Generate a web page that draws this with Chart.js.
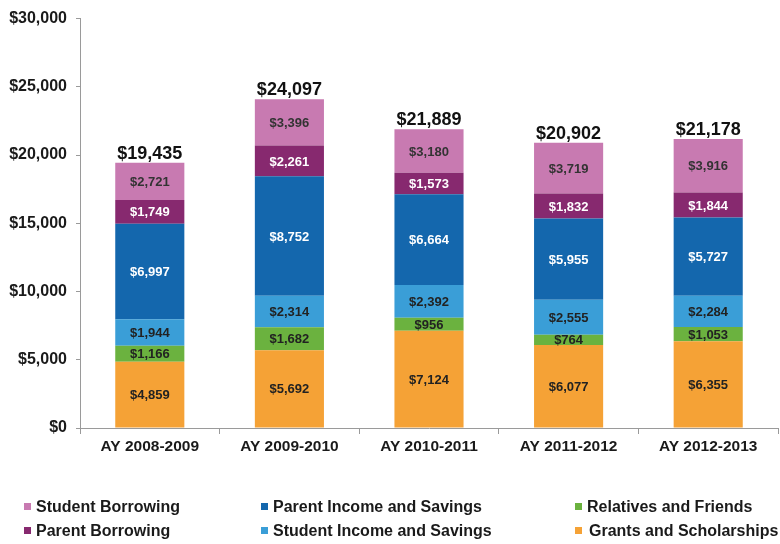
<!DOCTYPE html>
<html>
<head>
<meta charset="utf-8">
<script src="https://cdn.jsdelivr.net/npm/chart.js@4/dist/chart.umd.min.js"></script>
<style>
  html, body { margin: 0; padding: 0; background: #ffffff; }
  #wrap { width: 780px; height: 544px; }
</style>
</head>
<body>
<div id="wrap"><canvas id="c" width="780" height="544"></canvas></div>
<script>
// Academic years
const years = ['AY 2008-2009', 'AY 2009-2010', 'AY 2010-2011', 'AY 2011-2012', 'AY 2012-2013'];

// Average spending on college by source (dollars), bottom of stack to top
const grantsScholarships = [4859, 5692, 7124, 6077, 6355];
const relativesFriends   = [1166, 1682, 956, 764, 1053];
const studentIncome      = [1944, 2314, 2392, 2555, 2284];
const parentIncome       = [6997, 8752, 6664, 5955, 5727];
const parentBorrowing    = [1749, 2261, 1573, 1832, 1844];
const studentBorrowing   = [2721, 3396, 3180, 3719, 3916];

// Totals printed above each bar
const yearTotals = [19435, 24097, 21889, 20902, 21178];

// Value axis ticks
const yTicks = [0, 5000, 10000, 15000, 20000, 25000, 30000];

const FONT = '"Liberation Sans", Arial, sans-serif';
const money = v => '$' + v.toLocaleString('en-US');

const series = [
  { label: 'Grants and Scholarships',    data: grantsScholarships, color: '#F5A236', text: '#222222' },
  { label: 'Relatives and Friends',      data: relativesFriends,   color: '#6BB23F', text: '#222222' },
  { label: 'Student Income and Savings', data: studentIncome,      color: '#3A9ED7', text: '#222222' },
  { label: 'Parent Income and Savings',  data: parentIncome,       color: '#1467AD', text: '#ffffff' },
  { label: 'Parent Borrowing',           data: parentBorrowing,    color: '#87296F', text: '#ffffff' },
  { label: 'Student Borrowing',          data: studentBorrowing,   color: '#C87AB1', text: '#333333' }
];

// Legend grid: columns left to right, two entries per column
const legendColumns = [
  ['Student Borrowing', 'Parent Borrowing'],
  ['Parent Income and Savings', 'Student Income and Savings'],
  ['Relatives and Friends', 'Grants and Scholarships']
];

const segmentLabels = {
  id: 'segmentLabels',
  afterDatasetsDraw(chart) {
    const ctx = chart.ctx;
    ctx.save();
    ctx.textAlign = 'center';
    ctx.textBaseline = 'middle';
    ctx.font = 'bold 13px ' + FONT;
    chart.data.datasets.forEach((ds, di) => {
      const meta = chart.getDatasetMeta(di);
      meta.data.forEach((bar, i) => {
        const mid = (bar.y + bar.base) / 2;
        ctx.fillStyle = ds.labelColor;
        ctx.fillText(money(ds.data[i]), bar.x, mid + 1);
      });
    });
    // totals above the stacks
    const topMeta = chart.getDatasetMeta(chart.data.datasets.length - 1);
    ctx.font = 'bold 18px ' + FONT;
    ctx.fillStyle = '#111111';
    ctx.textBaseline = 'alphabetic';
    topMeta.data.forEach((bar, i) => {
      ctx.fillText(money(yearTotals[i]), bar.x, bar.y - 4);
    });
    ctx.restore();
  }
};

const gridLegend = {
  id: 'gridLegend',
  afterDraw(chart) {
    const ctx = chart.ctx;
    const colX = [24, 261, 575];
    const rowY = [508, 532];
    ctx.save();
    ctx.font = 'bold 16px ' + FONT;
    ctx.textBaseline = 'middle';
    ctx.textAlign = 'left';
    legendColumns.forEach((col, ci) => {
      col.forEach((name, ri) => {
        const ds = chart.data.datasets.find(d => d.label === name);
        const x = colX[ci], y = rowY[ri];
        ctx.fillStyle = ds.backgroundColor;
        ctx.fillRect(x, y - 5, 7, 7);
        ctx.fillStyle = '#1a1a1a';
        ctx.fillText(name, x + 12 + (name === 'Grants and Scholarships' ? 2 : 0), y);
      });
    });
    ctx.restore();
  }
};

new Chart(document.getElementById('c'), {
  type: 'bar',
  data: {
    labels: years,
    datasets: series.map(s => ({
      label: s.label,
      data: s.data,
      backgroundColor: s.color,
      labelColor: s.text,
      borderWidth: 0,
      categoryPercentage: 1.0,
      barPercentage: 0.495
    }))
  },
  options: {
    responsive: false,
    animation: false,
    devicePixelRatio: 1,
    layout: { padding: { top: 16, left: 0, right: 2, bottom: 86 } },
    plugins: {
      legend: { display: false },
      tooltip: { enabled: false }
    },
    scales: {
      x: {
        stacked: true,
        afterFit(scale) { scale.height = 30; },
        grid: {
          display: true,
          offset: true,
          drawOnChartArea: false,
          drawTicks: true,
          tickLength: 6,
          color: '#9a9a9a'
        },
        border: { display: true, color: '#9a9a9a', width: 1 },
        ticks: {
          color: '#1a1a1a',
          font: { family: FONT, size: 15.5, weight: 'bold' },
          padding: 3,
          maxRotation: 0
        }
      },
      y: {
        stacked: true,
        min: 0,
        max: 30000,
        afterFit(scale) { scale.width = 80; },
        afterBuildTicks(scale) { scale.ticks = yTicks.map(v => ({ value: v })); },
        grid: {
          display: true,
          drawOnChartArea: false,
          drawTicks: true,
          tickLength: 4,
          color: '#9a9a9a'
        },
        border: { display: true, color: '#9a9a9a', width: 1 },
        ticks: {
          color: '#1a1a1a',
          font: { family: FONT, size: 16, weight: 'bold' },
          padding: 9,
          callback: v => money(v)
        }
      }
    }
  },
  plugins: [segmentLabels, gridLegend]
});
</script>
</body>
</html>
